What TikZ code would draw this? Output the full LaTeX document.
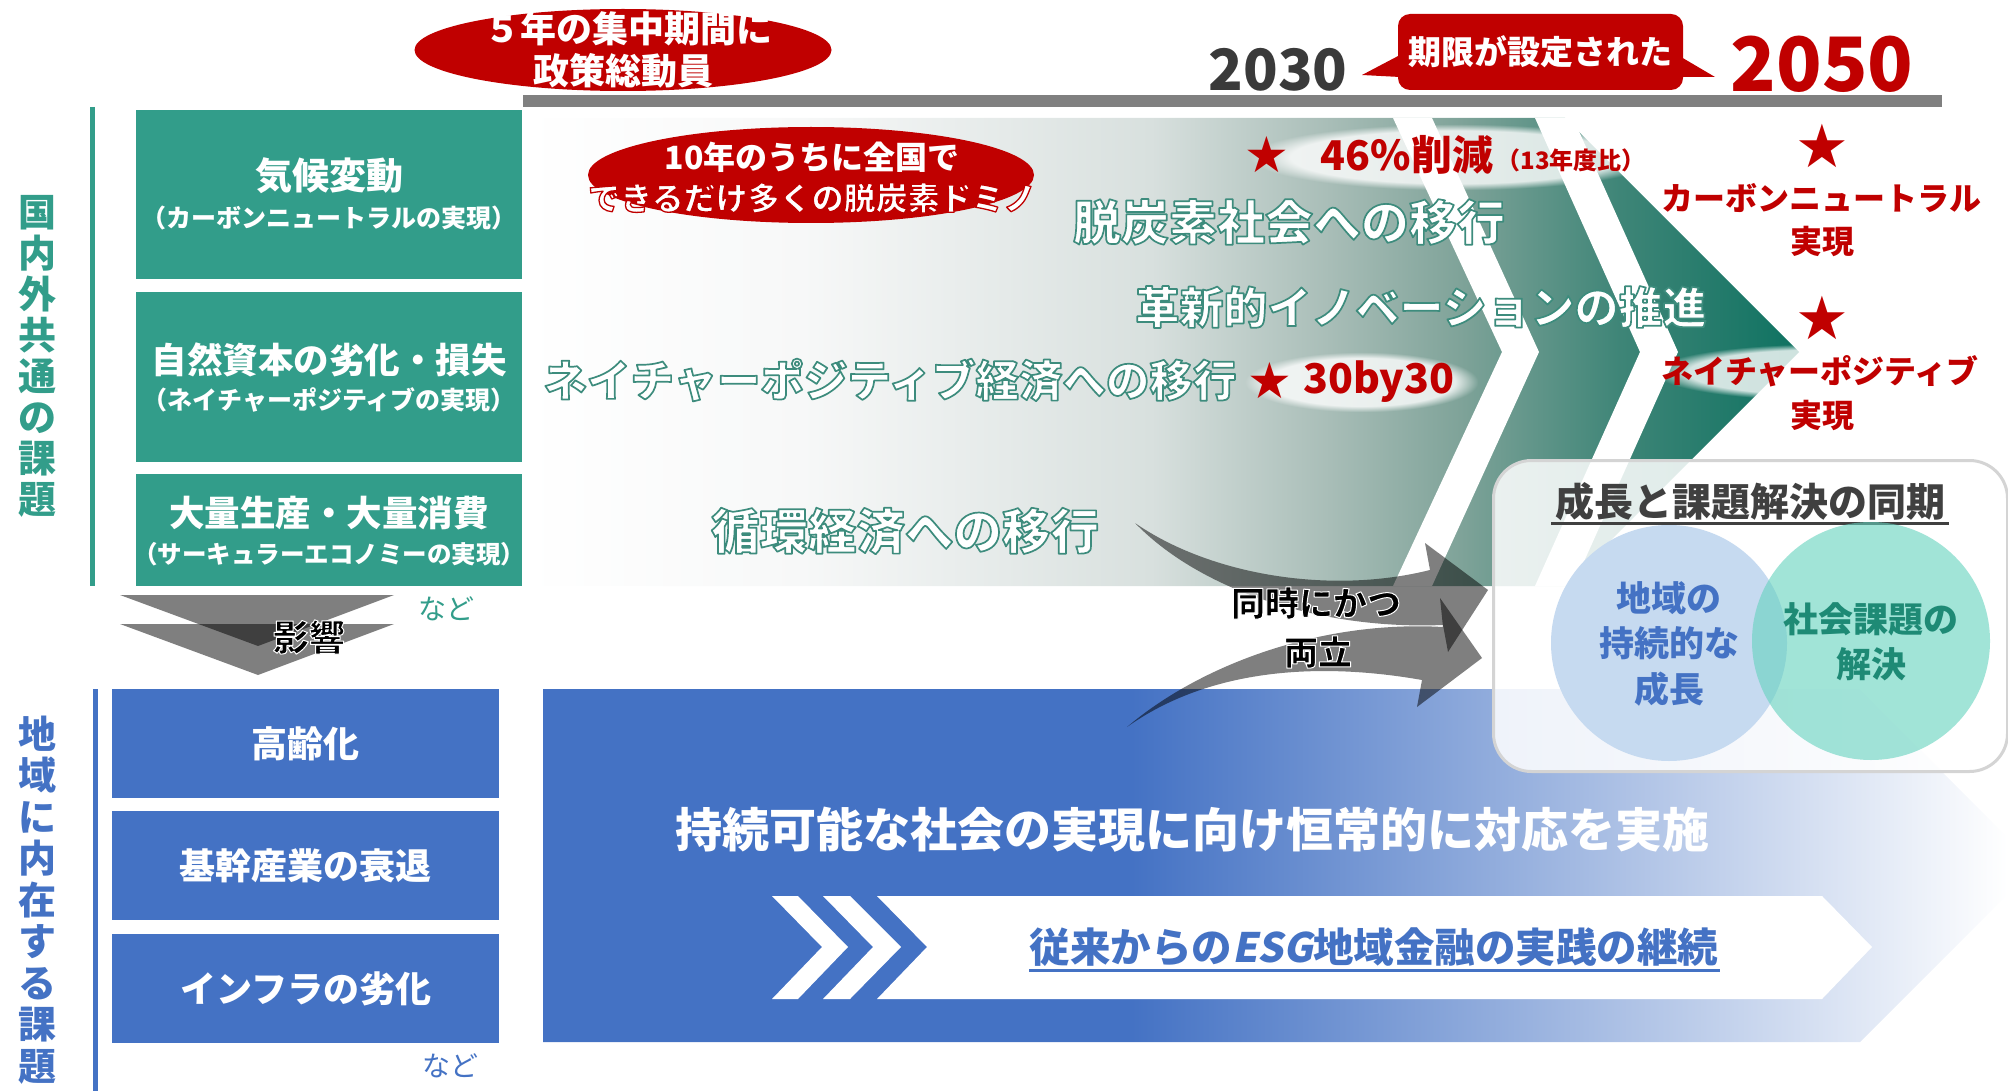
\documentclass[tikz,border=0pt]{standalone}
\usepackage{fontspec}
\setmainfont{Noto Sans CJK JP}
\newfontfamily\jpsl{Noto Sans CJK JP}[FakeSlant=0.2]
\newfontfamily\symfont{DejaVu Sans}
\usetikzlibrary{shapes.geometric,fadings}
\definecolor{tealbox}{HTML}{329D8A}
\definecolor{bluebox}{HTML}{4472C4}
\definecolor{redc}{HTML}{C00000}
\definecolor{barg}{HTML}{808080}
\definecolor{darktxt}{HTML}{3A3A3A}
\definecolor{tealtext}{HTML}{1E8A75}
\definecolor{circblue}{HTML}{C6DAF0}
\definecolor{circteal}{RGB}{100,210,190}
\definecolor{boxline}{HTML}{D4D4D4}
\definecolor{titlegray}{HTML}{404040}
\definecolor{gA}{HTML}{F7F8F8}
\definecolor{gB}{HTML}{D8E0DE}
\definecolor{gC}{HTML}{A8BDB7}
\definecolor{gD}{HTML}{7FA399}
\definecolor{gE}{HTML}{3E8577}
\definecolor{gF}{HTML}{0E7261}
\pgfdeclarehorizontalshading{greenfade}{100bp}{color(0bp)=(white); color(25bp)=(white); color(35.9bp)=(gA); color(49.6bp)=(gB); color(56.6bp)=(gC); color(61.7bp)=(gD); color(68bp)=(gE); color(75bp)=(gF); color(100bp)=(gF)}
\pgfdeclarehorizontalshading{bluefade}{100bp}{color(0bp)=(bluebox); color(44.7bp)=(bluebox); color(74.06bp)=(white); color(100bp)=(white)}
\newcommand\jfs[1]{\bfseries\fontsize{#1}{#1}\selectfont}
\newcommand\jfn[1]{\fontsize{#1}{#1}\selectfont}
% outlined text: fill with current colour, stroke with given rgb
\newcommand\outl[3]{\special{pdf:literal direct #2 RG #1 w 1 j 2 Tr}#3\special{pdf:literal direct 0 Tr}}
\def\rgbTeal{0.24 0.55 0.49}
\def\rgbRed{0.75 0 0}
\tikzset{
  lab/.style={inner sep=0pt, outer sep=0pt, align=center},
  boxT/.style={fill=tealbox, draw=none, inner sep=0pt, anchor=north west, minimum width=386pt},
  boxB/.style={fill=bluebox, draw=none, inner sep=0pt, anchor=north west, minimum width=387pt, minimum height=109pt},
  redell/.style={ellipse, fill=redc, draw=none, inner sep=0pt},
  halfblack/.style={fill=black, fill opacity=0.5},
  halo/.style={fill=white, path fading=circle with fuzzy edge 20 percent, fill opacity=0.8},
}
\begin{document}
\begin{tikzpicture}[x=1pt,y=-1pt]
\useasboundingbox (0,0) rectangle (2008,1091);
\clip (0,0) rectangle (2008,1091);

% ---------- upper green arrow ----------
\path[shading=greenfade] (524,118) -- (1565,118) -- (1799,352) -- (1565,586) -- (524,586) -- cycle;
\fill[white] (1393,118) -- (1432,118) -- (1539,352) -- (1432,586) -- (1393,586) -- (1502,352) -- cycle;
\fill[white] (1535,118) -- (1573,118) -- (1678,352) -- (1573,586) -- (1535,586) -- (1640,352) -- cycle;

% ---------- lower blue arrow ----------
\path[shading=bluefade] (543,689) -- (1859,689) -- (2036,866) -- (1860,1042) -- (543,1042) -- cycle;
\fill[white] (877,896) -- (1822,896) -- (1872,947) -- (1822,999) -- (877,999) -- (927,947) -- cycle;
\fill[white] (772,896) -- (798,896) -- (848,947) -- (798,999) -- (772,999) -- (822,947) -- cycle;
\fill[white] (823,896) -- (850,896) -- (901,947) -- (850,999) -- (823,999) -- (873,947) -- cycle;

% ---------- top bar and time labels ----------
\fill[barg] (523,95) rectangle (1942,107);
\node[lab, font=\jfs{57}, text=darktxt] (y2030) at (1278,70) {2030};
\node[lab, font=\jfs{75}, text=redc] (y2050) at (1822,64) {2050};
\fill[redc] (1400,55) -- (1362,75) -- (1400,77) -- cycle;
\fill[redc] (1681,57) -- (1715,77) -- (1681,77) -- cycle;
\node[fill=redc, rounded corners=12pt, minimum width=285pt, minimum height=76pt, inner sep=0pt, font=\jfs{33}, text=white] (dead) at (1540.5,52) {期限が設定された};

% ---------- red ellipses ----------
\node[redell, minimum width=417pt, minimum height=82pt] (e1) at (623,50) {};
\node[lab, font=\jfs{36}, text=white] (e1a) at (628,29) {５年の集中期間に};
\node[lab, font=\jfs{36}, text=white] (e1b) at (623,71) {政策総動員};
\node[redell, minimum width=446pt, minimum height=96pt] (e2) at (811,175) {};
\node[lab, font=\jfs{32}, text=white] (e2a) at (812,157) {10年のうちに全国で};
\node[lab, font=\jfs{32}, text=white] (e2b) at (812,198) {\outl{1.3}{\rgbRed}{できるだけ多くの脱炭素ドミノ}};

% ---------- left: global issues ----------
\draw[tealbox, line width=5pt] (92,107) -- (92,586);
\node[lab, font=\jfs{38}\fontsize{38}{41}\selectfont, text=tealbox] (vlab1) at (38,356) {国\\内\\外\\共\\通\\の\\課\\題};
\node[boxT, minimum height=169pt] (tb1) at (136,110) {};
\node[boxT, minimum height=170pt] (tb2) at (136,292) {};
\node[boxT, minimum height=112pt] (tb3) at (136,474) {};
\node[lab, font=\jfs{37}, text=white] (tb1a) at (329,176) {気候変動};
\node[lab, font=\jfs{25}, text=white] (tb1b) at (329,218) {（カーボンニュートラルの実現）};
\node[lab, font=\jfs{35.5}, text=white] (tb2a) at (329,360) {自然資本の劣化・損失};
\node[lab, font=\jfs{25}, text=white] (tb2b) at (329,400) {（ネイチャーポジティブの実現）};
\node[lab, font=\jfs{35.5}, text=white] (tb3a) at (329,513) {大量生産・大量消費};
\node[lab, font=\jfs{24.5}, text=white] (tb3b) at (329,554) {（サーキュラーエコノミーの実現）};

% ---------- influence triangles ----------
\fill[halfblack] (120,595) -- (394,595) -- (258,646) -- cycle;
\fill[halfblack] (120,624) -- (394,624) -- (258,675) -- cycle;
\node[lab, font=\jfs{36}, text=black] (infl) at (309,637) {\outl{1}{1 1 1}{影響}};
\node[lab, font=\jfn{28}, text=tealbox] (nado1) at (446,609) {など};

% ---------- left: regional issues ----------
\draw[bluebox, line width=5pt] (95,689) -- (95,1091);
\node[lab, font=\jfs{38}\fontsize{38}{41.5}\selectfont, text=bluebox] (vlab2) at (38,900) {地\\域\\に\\内\\在\\す\\る\\課\\題};
\node[boxB] (bb1) at (112,689) {};
\node[boxB] (bb2) at (112,811) {};
\node[boxB] (bb3) at (112,934) {};
\node[lab, font=\jfs{36}, text=white] (bb1t) at (bb1.center) {高齢化};
\node[lab, font=\jfs{36}, text=white] (bb2t) at (bb2.center) {基幹産業の衰退};
\node[lab, font=\jfs{36}, text=white] (bb3t) at (bb3.center) {インフラの劣化};
\node[lab, font=\jfn{28}, text=bluebox] (nado2) at (450,1066) {など};

% ---------- curved arrows ----------
\fill[halfblack] (1135,523) .. controls (1210,575) and (1330,595) .. (1430,570) -- (1425,543) -- (1488,590) -- (1448,652) -- (1443,625) .. controls (1320,630) and (1200,590) .. (1135,523) -- cycle;
\fill[halfblack] (1127,727) .. controls (1200,665) and (1320,620) .. (1443,627) -- (1440,598) -- (1482,658) -- (1417,707) -- (1422,680) .. controls (1320,662) and (1210,668) .. (1127,727) -- cycle;
\node[lab, font=\jfs{34}, text=black] (both1) at (1316,603) {\outl{1}{1 1 1}{同時にかつ}};
\node[lab, font=\jfs{34}, text=black] (both2) at (1318,652) {\outl{1}{1 1 1}{両立}};

% ---------- green region texts ----------
\node[lab, font=\jfs{48}, text=white] (g1) at (1289,222) {\outl{1.7}{\rgbTeal}{脱炭素社会への移行}};
\node[lab, font=\jfs{44}, text=white] (g2) at (1421,307) {\outl{1.7}{\rgbTeal}{革新的イノベーションの推進}};
\node[lab, font=\jfs{43.5}, text=white] (g3) at (890,380) {\outl{1.7}{\rgbTeal}{ネイチャーポジティブ経済への移行}};
\node[lab, font=\jfs{48.5}, text=white] (g4) at (905,531) {\outl{1.7}{\rgbTeal}{循環経済への移行}};
\fill[halo] (1250,124) rectangle (1660,190);
\fill[halo] (1245,352) rectangle (1478,412);
\node[lab, font=\symfont\fontsize{50}{50}\selectfont, text=redc] (st1) at (1267,155) {★};
\node[lab, font=\jfs{41}, text=redc] (cut) at (1407,155) {46\%削減};
\node[lab, font=\jfs{24}, text=redc] (cut2) at (1571,160) {（13年度比）};
\node[lab, font=\symfont\fontsize{50}{50}\selectfont, text=redc] (st2) at (1270,381) {★};
\node[lab, font=\jfs{41}, text=redc] (by30) at (1379,382) {30by30};

% ---------- right column goals ----------
\fill[halo] (1655,344) rectangle (1990,400);
\node[lab, font=\symfont\fontsize{60}{60}\selectfont, text=redc] (st3) at (1822,146) {★};
\node[lab, font=\jfs{32}, text=redc] (cn1) at (1821,198) {カーボンニュートラル};
\node[lab, font=\jfs{32}, text=redc] (cn2) at (1822,241) {実現};
\node[lab, font=\symfont\fontsize{60}{60}\selectfont, text=redc] (st4) at (1822,318) {★};
\node[lab, font=\jfs{32}, text=redc] (np1) at (1820,371) {ネイチャーポジティブ};
\node[lab, font=\jfs{32}, text=redc] (np2) at (1822,415) {実現};

% ---------- synchronisation box ----------
\node[anchor=north west, minimum width=514pt, minimum height=311pt, rounded corners=38pt, fill=white, fill opacity=0.86, draw=boxline, line width=3pt, inner sep=0pt] (sync) at (1492,459) {};
\node[lab, font=\jfs{39}, text=titlegray] (synct) at (1750,502) {成長と課題解決の同期};
\draw[titlegray, line width=3pt] (1551,523) -- (1949,523);
\node[circle, fill=circblue, minimum size=236pt, inner sep=0pt] (cl) at (1669,643) {};
\node[circle, fill=circteal, fill opacity=0.6, minimum size=238pt, inner sep=0pt] (cr) at (1871,641) {};
\node[lab, font=\jfs{35}, text=bluebox] (cl1) at (1669,598) {地域の};
\node[lab, font=\jfs{35}, text=bluebox] (cl2) at (1669,643) {持続的な};
\node[lab, font=\jfs{35}, text=bluebox] (cl3) at (1669,689) {成長};
\node[lab, font=\jfs{35}, text=tealtext] (cr1) at (1871,619) {社会課題の};
\node[lab, font=\jfs{35}, text=tealtext] (cr2) at (1871,664) {解決};

% ---------- blue region texts ----------
\node[lab, font=\jfs{47}, text=white] (sus) at (1192,830) {持続可能な社会の実現に向け恒常的に対応を実施};
\node[lab, font=\jfs{40.5}, text=bluebox] (esg) at (1374,947) {従来からの{\jpsl\bfseries ESG}地域金融の実践の継続};
\draw[bluebox, line width=3pt] (1029,970) -- (1720,970);
\end{tikzpicture}
\end{document}
